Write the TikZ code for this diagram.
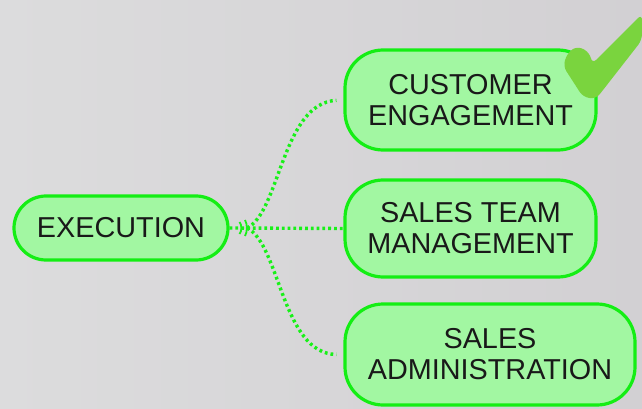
\documentclass[tikz,border=0pt]{standalone}
\usepackage{fontspec}
\setmainfont{Liberation Sans}
\begin{document}
\begin{tikzpicture}[x=1pt,y=-1pt]
\definecolor{bgl}{RGB}{220,220,221}
\definecolor{bgr}{RGB}{210,208,211}
\definecolor{edgegreen}{RGB}{20,238,20}
\definecolor{fillgreen}{RGB}{162,247,162}
\definecolor{dotgreen}{RGB}{25,240,25}
\definecolor{tickgreen}{RGB}{122,212,62}
\tikzset{
  box/.style={draw=edgegreen, fill=fillgreen, line width=3.2pt, align=center,
    font=\fontsize{28.8}{31}\selectfont, text=black!90, inner sep=0pt},
  conn/.style={draw=dotgreen, line width=3.4pt, dash pattern=on 2.8pt off 3pt}
}
\shade[left color=bgl, right color=bgr] (0,0) rectangle (642,409);
\useasboundingbox (0,0) rectangle (642,409);
% nodes
\node[box, rounded corners=32pt, minimum width=214pt, minimum height=64pt] (exec) at (121,228) {EXECUTION};
\node[box, rounded corners=38pt, minimum width=251pt, minimum height=100pt] (ce) at (470.5,100) {CUSTOMER\\ENGAGEMENT};
\node[box, rounded corners=38pt, minimum width=251pt, minimum height=97pt] (stm) at (470.5,228.5) {SALES TEAM\\MANAGEMENT};
\node[box, rounded corners=38pt, minimum width=290pt, minimum height=101pt] (sa) at (490,354.5) {SALES\\ADMINISTRATION};
% connectors
\coordinate (hub) at (247,228);
\draw[conn] (exec.east) -- (stm.west);
\draw[conn, shorten >=7pt] (hub) .. controls (280,212) and (282,103) .. (ce.west);
\draw[conn, shorten >=7pt] (hub) .. controls (280,244) and (282,354) .. (sa.west);
\draw[dotgreen, line width=1.8pt] (239.5,222) .. controls (242,225) and (242,231) .. (239.5,234);
\draw[dotgreen, line width=1.8pt] (245,220) .. controls (247.5,224) and (247.5,232) .. (245,236);
% check mark
\fill[tickgreen, rounded corners=6pt] (563,66) -- (583,97) -- (596,99) -- (642,40) -- (642,14)
  -- (592,64) -- (590,53) -- (578,46) -- (568,52) -- cycle;
\end{tikzpicture}
\end{document}
